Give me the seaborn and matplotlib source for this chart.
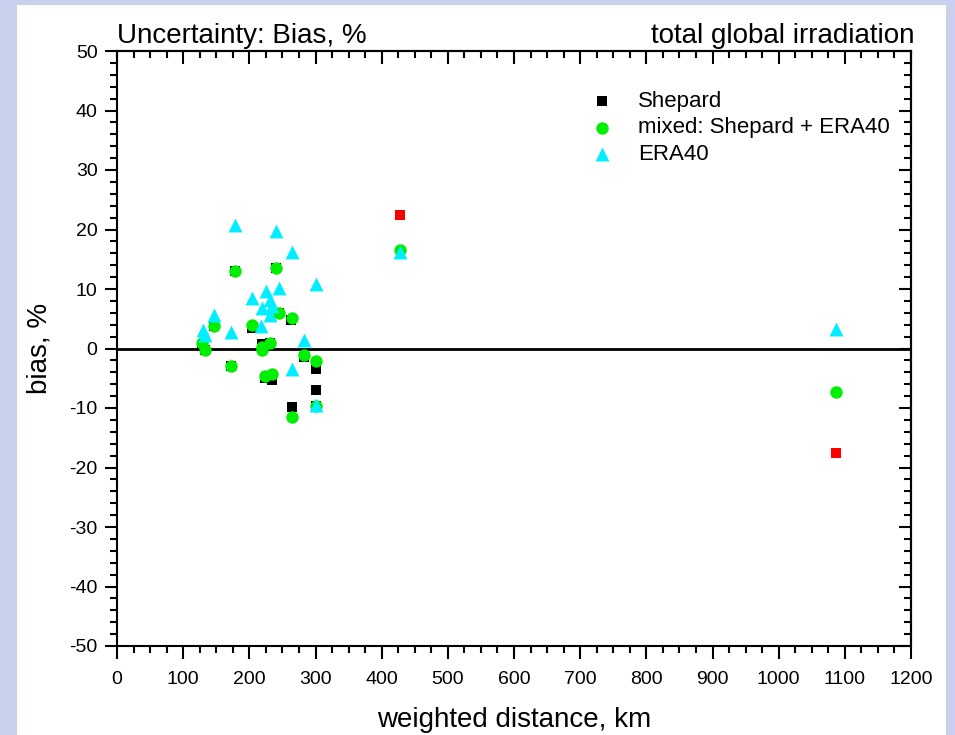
import matplotlib
matplotlib.use("Agg")
import matplotlib.pyplot as plt
from matplotlib.patches import Rectangle
from matplotlib.ticker import MultipleLocator
import seaborn as sns
import pandas as pd

# ---- data ----
shep_x = [128, 133, 147, 173, 179, 204, 219, 224, 231, 234, 241, 245, 263, 264, 282, 301, 301, 301]
shep_y = [0.5, -0.3, 3.8, -2.9, 13.0, 3.5, 0.7, -5.0, 1.0, -5.3, 13.5, 6.0, 4.8, -9.8, -1.4, -3.5, -7.0, -9.7]
shep_out_x = [428, 1087]
shep_out_y = [22.5, -17.5]
mix_x = [128, 133, 147, 173, 179, 204, 219, 219, 224, 231, 234, 241, 245, 264, 264, 282, 301, 301, 428, 1087]
mix_y = [0.9, -0.3, 3.8, -2.9, 13.0, 3.9, 0.3, -0.2, -4.6, 0.9, -4.3, 13.5, 5.9, 5.2, -11.5, -1.1, -2.1, -9.6, 16.5, -7.3]
era_x = [130, 133, 147, 173, 179, 204, 218, 219, 225, 231, 231, 234, 241, 245, 264, 264, 282, 301, 301, 428, 1087]
era_y = [3.1, 2.3, 5.6, 2.8, 20.7, 8.5, 3.7, 6.8, 9.7, 8.1, 5.6, 7.1, 19.8, 10.1, 16.3, -3.5, 1.4, 10.8, -9.5, 16.3, 3.2]

labels = ["Shepard", "mixed: Shepard + ERA40", "ERA40"]
colors = ["#000000", "#00ee00", "#00eeff"]
sizes = [60, 80, 100]

sns.set_theme(style="white")
plt.rcParams["font.family"] = ["Liberation Sans", "DejaVu Sans"]
plt.rcParams["axes.unicode_minus"] = False
plt.rcParams["text.color"] = "black"

fig = plt.figure(figsize=(9.55, 7.35), dpi=100)
fig.patch.set_facecolor("#c8d0ee")
fig.add_artist(Rectangle((17 / 955, 0), (946 - 17) / 955, (735 - 5) / 735,
                         transform=fig.transFigure, facecolor="white",
                         edgecolor="none", zorder=-10))
ax = fig.add_axes([117 / 955, 89 / 735, 794 / 955, 595 / 735])
ax.set_facecolor("white")

ax.axhline(0, color="black", lw=2, zorder=1)

df_s = pd.DataFrame({"x": shep_x, "y": shep_y})
df_so = pd.DataFrame({"x": shep_out_x, "y": shep_out_y})
df_m = pd.DataFrame({"x": mix_x, "y": mix_y})
df_e = pd.DataFrame({"x": era_x, "y": era_y})

sns.scatterplot(data=df_s, x="x", y="y", ax=ax, marker="s", color=colors[0], s=sizes[0],
                linewidth=0, label=labels[0], zorder=3)
sns.scatterplot(data=df_so, x="x", y="y", ax=ax, marker="s", color="#ff0000", s=sizes[0],
                linewidth=0, zorder=3)
sns.scatterplot(data=df_m, x="x", y="y", ax=ax, marker="o", color=colors[1], s=sizes[1],
                linewidth=0, label=labels[1], zorder=4)
sns.scatterplot(data=df_e, x="x", y="y", ax=ax, marker="^", color=colors[2], s=sizes[2],
                linewidth=0, label=labels[2], zorder=5)

ax.set_xlim(0, 1200)
ax.set_ylim(-50, 50)
ax.xaxis.set_major_locator(MultipleLocator(100))
ax.xaxis.set_minor_locator(MultipleLocator(25))
ax.yaxis.set_major_locator(MultipleLocator(10))
ax.yaxis.set_minor_locator(MultipleLocator(2))

for sp in ax.spines.values():
    sp.set_color("black")
    sp.set_linewidth(1.5)

ax.tick_params(which="both", direction="out", color="black", width=1.5,
               labelsize=14, labelcolor="black", bottom=True, left=True)
ax.tick_params(which="major", length=9)
ax.tick_params(which="minor", length=5)
ax.tick_params(axis="x", which="major", pad=9)
ax.tick_params(axis="y", which="major", pad=5)
# inward ticks on top and right
ax2x = ax.secondary_xaxis("top")
ax2x.xaxis.set_major_locator(MultipleLocator(100))
ax2x.xaxis.set_minor_locator(MultipleLocator(25))
ax2x.tick_params(which="both", direction="in", width=1.5, labeltop=False, color="black")
ax2x.tick_params(which="major", length=9)
ax2x.tick_params(which="minor", length=5)
ax2x.spines["top"].set_linewidth(1.5)
ax2y = ax.secondary_yaxis("right")
ax2y.yaxis.set_major_locator(MultipleLocator(10))
ax2y.yaxis.set_minor_locator(MultipleLocator(2))
ax2y.tick_params(which="both", direction="in", width=1.5, labelright=False, color="black")
ax2y.tick_params(which="major", length=9)
ax2y.tick_params(which="minor", length=5)
ax2y.spines["right"].set_linewidth(1.5)

ax.set_xlabel("weighted distance, km", fontsize=20, color="black", labelpad=14)
ax.set_ylabel("bias, %", fontsize=20, color="black", labelpad=12)

ax.text(0, 1.003, "Uncertainty: Bias, %", transform=ax.transAxes, ha="left", va="bottom",
        fontsize=20, color="black")
ax.text(1.005, 1.003, "total global irradiation", transform=ax.transAxes, ha="right",
        va="bottom", fontsize=20, color="black")

leg = ax.legend(loc="upper left", bbox_to_anchor=(0.583, 0.948), frameon=False,
                fontsize=16, handletextpad=1.0, labelspacing=0.25, borderaxespad=0,
                handlelength=1.2)
for t in leg.get_texts():
    t.set_color("black")

fig.savefig("out.png", dpi=100, facecolor=fig.get_facecolor())
